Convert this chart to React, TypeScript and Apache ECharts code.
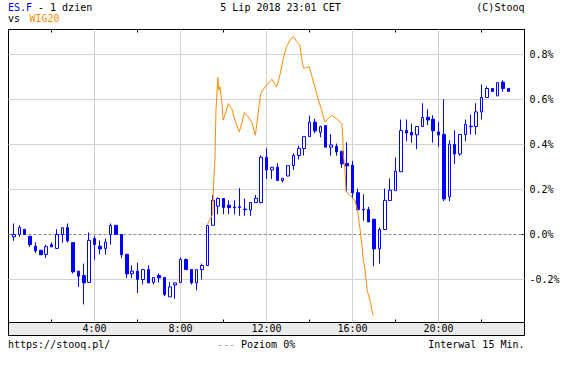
import React, { useEffect, useRef } from "react";
import * as echarts from "echarts";

const FONT = '"DejaVu Sans Mono", monospace';

// ES.F 15-minute candles (% change vs previous close); candle i ends at (i + 1) * 15 minutes
const esOpen = [
  -0.01, 0.0, 0.023, -0.008, -0.052, -0.07, -0.089, -0.045, -0.062, 0.0,
  0.031, -0.036, -0.163, -0.182, -0.213, -0.018, -0.052, -0.062, 0.0, 0.041,
  0.0, -0.088, -0.174, -0.163, -0.2, -0.156, -0.213, -0.182, -0.191, -0.277,
  -0.224, -0.213, -0.111, -0.156, -0.215, -0.156, -0.138, 0.041, 0.126, 0.16,
  0.13, 0.122, 0.123, 0.113, 0.109, 0.142, 0.142, 0.343, 0.287, 0.299,
  0.24, 0.26, 0.306, 0.351, 0.382, 0.435, 0.499, 0.454, 0.484, 0.388,
  0.392, 0.37, 0.316, 0.308, 0.186, 0.112, 0.111, 0.068, -0.063, 0.022,
  0.151, 0.195, 0.279, 0.463, 0.454, 0.443, 0.48, 0.521, 0.512, 0.456,
  0.445, 0.167, 0.401, 0.358, 0.444, 0.481, 0.48, 0.545, 0.609, 0.649,
  0.616, 0.677, 0.649,
];
const esClose = [
  0.0, 0.031, 0.0, -0.045, -0.073, -0.09, -0.054, -0.055, 0.0, 0.03,
  -0.028, -0.166, -0.185, -0.215, -0.026, -0.045, -0.064, -0.034, 0.04, 0.0,
  -0.09, -0.175, -0.163, -0.2, -0.156, -0.215, -0.191, -0.193, -0.267, -0.233,
  -0.215, -0.111, -0.156, -0.215, -0.156, -0.138, 0.04, 0.152, 0.16, 0.12,
  0.12, 0.119, 0.12, 0.11, 0.142, 0.161, 0.343, 0.287, 0.299, 0.24,
  0.25, 0.306, 0.351, 0.383, 0.435, 0.499, 0.46, 0.479, 0.388, 0.398,
  0.367, 0.314, 0.305, 0.185, 0.11, 0.109, 0.056, -0.064, 0.022, 0.152,
  0.197, 0.281, 0.462, 0.451, 0.442, 0.48, 0.52, 0.509, 0.461, 0.442,
  0.158, 0.401, 0.358, 0.445, 0.49, 0.479, 0.545, 0.609, 0.649, 0.636,
  0.675, 0.649, 0.636,
];
const esLow = [
  -0.028, -0.01, 0.0, -0.055, -0.082, -0.09, -0.104, -0.055, -0.062, -0.037,
  -0.036, -0.173, -0.233, -0.311, -0.213, -0.112, -0.088, -0.089, -0.045, 0.0,
  -0.104, -0.194, -0.194, -0.26, -0.222, -0.215, -0.222, -0.213, -0.274, -0.277,
  -0.286, -0.213, -0.156, -0.222, -0.248, -0.2, -0.138, 0.041, 0.09, 0.09,
  0.09, 0.09, 0.083, 0.083, 0.083, 0.142, 0.138, 0.247, 0.247, 0.24,
  0.231, 0.26, 0.287, 0.333, 0.351, 0.435, 0.45, 0.432, 0.388, 0.351,
  0.35, 0.296, 0.192, 0.16, 0.105, 0.061, 0.056, -0.141, -0.129, 0.022,
  0.151, 0.195, 0.279, 0.415, 0.408, 0.38, 0.48, 0.486, 0.408, 0.389,
  0.149, 0.149, 0.314, 0.349, 0.415, 0.444, 0.444, 0.511, 0.609, 0.636,
  0.616, 0.634, 0.636,
];
const esHigh = [
  0.049, 0.041, 0.023, -0.008, -0.035, -0.07, -0.045, -0.035, 0.023, 0.03,
  0.049, -0.036, -0.163, -0.129, 0.009, -0.006, -0.026, -0.018, 0.049, 0.041,
  0.0, -0.088, -0.137, -0.125, -0.156, -0.137, -0.191, -0.173, -0.191, -0.212,
  -0.215, -0.102, -0.107, -0.156, -0.156, -0.129, 0.04, 0.175, 0.165, 0.16,
  0.152, 0.152, 0.206, 0.16, 0.142, 0.176, 0.352, 0.383, 0.299, 0.317,
  0.25, 0.306, 0.361, 0.395, 0.435, 0.528, 0.514, 0.484, 0.484, 0.446,
  0.404, 0.37, 0.41, 0.327, 0.204, 0.179, 0.123, 0.068, 0.031, 0.204,
  0.249, 0.342, 0.511, 0.511, 0.493, 0.48, 0.583, 0.557, 0.53, 0.5,
  0.601, 0.419, 0.463, 0.445, 0.511, 0.533, 0.583, 0.666, 0.659, 0.649,
  0.675, 0.686, 0.649,
];

// WIG20 (% change), time in minutes after midnight
const wigMinutes = [
  555, 562, 570, 572, 576, 579, 584, 587, 590, 595,
  599, 604, 613, 623, 632, 644, 651, 658, 669, 679,
  685, 689, 693, 700, 704, 716, 735, 748, 756, 767,
  776, 786, 795, 804, 813, 818, 823, 832, 839, 843,
  855, 865, 874, 883, 892, 902, 916, 930, 933, 934,
  939, 942, 953, 967, 975, 979, 983, 987, 990, 995,
  998, 1001, 1006, 1011, 1014, 1018,
];
const wigValues = [
  0.044, 0.067, 0.09, 0.212, 0.33, 0.552, 0.698, 0.641, 0.656, 0.597,
  0.508, 0.53, 0.582, 0.56, 0.508, 0.456, 0.493, 0.542, 0.523, 0.5,
  0.464, 0.441, 0.493, 0.582, 0.627, 0.656, 0.69, 0.656, 0.697, 0.783,
  0.835, 0.865, 0.88, 0.858, 0.843, 0.783, 0.739, 0.742, 0.746, 0.724,
  0.656, 0.597, 0.552, 0.5, 0.515, 0.53, 0.515, 0.493, 0.434, 0.36,
  0.286, 0.19, 0.175, 0.15, 0.1, 0.05, 0.0, -0.06, -0.11, -0.159,
  -0.203, -0.248, -0.277, -0.307, -0.336, -0.359,
];

const xLabelHours = [4, 8, 12, 16, 20];
const yTickValues = [-0.2, 0, 0.2, 0.4, 0.6, 0.8];

const BLUE = "#0000ff";
const ORANGE = "#ff8c00";
const GRID = "#d3d3d3";

export default function App() {
  const ref = useRef<HTMLDivElement>(null);

  useEffect(() => {
    if (!ref.current) return;
    const chart = echarts.init(ref.current, undefined, { renderer: "svg" });

    const candleData = esOpen.map((o, i) => [
      (i + 1) * 15,
      o,
      esClose[i],
      esLow[i],
      esHigh[i],
    ]);
    const wigData = wigMinutes.map((m, i) => [m, wigValues[i]]);

    const yMin = -88 / 225;
    const yMax = 205 / 225;

    const textStyle = (extra: any) => ({
      font: `10px ${FONT}`,
      fontFamily: FONT,
      fontSize: 10,
      ...extra,
    });

    const option: any = {
      animation: false,
      backgroundColor: "#ffffff",
      grid: { left: 8.5, right: 55.5, top: 29.5, bottom: 49.5, containLabel: false },
      xAxis: [
        {
          type: "value",
          min: 0,
          max: 1440,
          interval: 120,
          position: "bottom",
          axisLine: { show: true, onZero: false, lineStyle: { color: "#000", width: 1 } },
          axisTick: { show: true, inside: true, length: 3, lineStyle: { color: "#000" } },
          axisLabel: {
            show: true,
            margin: 6,
            verticalAlign: "middle",
            color: "#000",
            fontFamily: FONT,
            fontSize: 10,
            showMinLabel: false,
            showMaxLabel: false,
            formatter: (v: number) =>
              xLabelHours.includes(v / 60) ? `${v / 60}:00` : "",
          },
          splitLine: { show: false },
        },
        {
          type: "value",
          min: 0,
          max: 1440,
          interval: 120,
          position: "top",
          axisLine: { show: true, onZero: false, lineStyle: { color: "#000", width: 1 } },
          axisTick: { show: true, inside: true, length: 3, lineStyle: { color: "#000" } },
          axisLabel: { show: false },
          splitLine: { show: false },
        },
      ],
      yAxis: [
        {
          type: "value",
          position: "left",
          min: yMin,
          max: yMax,
          axisLine: { show: true, onZero: false, lineStyle: { color: "#000", width: 1 } },
          axisTick: {
            show: true,
            inside: true,
            length: 4,
            customValues: yTickValues,
            lineStyle: { color: "#000" },
          },
          axisLabel: { show: false },
          splitLine: { show: false },
        },
        {
          type: "value",
          position: "right",
          min: yMin,
          max: yMax,
          axisLine: { show: true, onZero: false, lineStyle: { color: "#000", width: 1 } },
          axisTick: {
            show: true,
            inside: true,
            length: 3,
            customValues: yTickValues,
            lineStyle: { color: "#000" },
          },
          axisLabel: {
            show: true,
            margin: 5,
            customValues: yTickValues,
            color: "#000",
            fontFamily: FONT,
            fontSize: 10,
            formatter: (v: number) => `${v.toFixed(1)}%`,
          },
          splitLine: { show: false },
        },
      ],
      series: [
        {
          type: "line",
          data: [],
          z: 1,
          silent: true,
          markLine: {
            z: 1,
            silent: true,
            animation: false,
            symbol: ["none", "none"],
            label: { show: false },
            lineStyle: { color: GRID, width: 1, type: "solid" },
            emphasis: { disabled: true },
            data: [
              ...yTickValues
                .filter((v) => v !== 0)
                .map((v) => ({ yAxis: v })),
              ...xLabelHours.map((h) => ({ xAxis: h * 60 })),
              {
                yAxis: 0,
                lineStyle: { color: "#8c8c8c", width: 1, type: [3, 2] },
              },
            ],
          },
        },
        {
          type: "candlestick",
          name: "ES.F",
          z: 3,
          barWidth: 3,
          encode: { x: 0, y: [1, 2, 3, 4] },
          data: candleData,
          itemStyle: {
            color: "#ffffff",
            color0: BLUE,
            borderColor: BLUE,
            borderColor0: BLUE,
            borderColorDoji: BLUE,
            borderWidth: 1,
          },
        },
        {
          type: "line",
          name: "WIG20",
          z: 4,
          data: wigData,
          showSymbol: false,
          symbol: "none",
          lineStyle: { color: ORANGE, width: 1 },
          itemStyle: { color: ORANGE },
        },
      ],
      graphic: [
        {
          type: "rect",
          z: -1,
          silent: true,
          shape: { x: 8.5, y: 322.5, width: 516, height: 13 },
          style: { fill: "#ebebeb", stroke: "#000", lineWidth: 1 },
        },
        {
          type: "text",
          x: 8,
          y: 7.5,
          style: textStyle({ text: "ES.F", fill: BLUE, textAlign: "left", align: "left", textVerticalAlign: "middle", verticalAlign: "middle" }),
        },
        {
          type: "text",
          x: 32,
          y: 7.5,
          style: textStyle({ text: " - 1 dzien", fill: "#000", textAlign: "left", align: "left", textVerticalAlign: "middle", verticalAlign: "middle" }),
        },
        {
          type: "text",
          x: 280.5,
          y: 7.5,
          style: textStyle({ text: "5 Lip 2018 23:01 CET", fill: "#000", textAlign: "center", align: "center", textVerticalAlign: "middle", verticalAlign: "middle" }),
        },
        {
          type: "text",
          x: 524.5,
          y: 7.5,
          style: textStyle({ text: "(C)Stooq", fill: "#000", textAlign: "right", align: "right", textVerticalAlign: "middle", verticalAlign: "middle" }),
        },
        {
          type: "text",
          x: 8,
          y: 18.5,
          style: textStyle({ text: "vs", fill: "#000", textAlign: "left", align: "left", textVerticalAlign: "middle", verticalAlign: "middle" }),
        },
        {
          type: "text",
          x: 29.5,
          y: 18.5,
          style: textStyle({ text: "WIG20", fill: ORANGE, textAlign: "left", align: "left", textVerticalAlign: "middle", verticalAlign: "middle" }),
        },
        {
          type: "text",
          x: 8,
          y: 344.5,
          style: textStyle({ text: "https://stooq.pl/", fill: "#000", textAlign: "left", align: "left", textVerticalAlign: "middle", verticalAlign: "middle" }),
        },
        {
          type: "text",
          x: 217,
          y: 344.5,
          style: textStyle({ text: "---", fill: "#9a9a9a", textAlign: "left", align: "left", textVerticalAlign: "middle", verticalAlign: "middle" }),
        },
        {
          type: "text",
          x: 241,
          y: 344.5,
          style: textStyle({ text: "Poziom 0%", fill: "#000", textAlign: "left", align: "left", textVerticalAlign: "middle", verticalAlign: "middle" }),
        },
        {
          type: "text",
          x: 524.5,
          y: 344.5,
          style: textStyle({ text: "Interwal 15 Min.", fill: "#000", textAlign: "right", align: "right", textVerticalAlign: "middle", verticalAlign: "middle" }),
        },
      ],
    };

    chart.setOption(option);
    return () => chart.dispose();
  }, []);

  return (
    <div
      ref={ref}
      style={{
        position: "absolute",
        left: 0,
        top: 0,
        width: 580,
        height: 372,
        background: "#ffffff",
      }}
    />
  );
}
